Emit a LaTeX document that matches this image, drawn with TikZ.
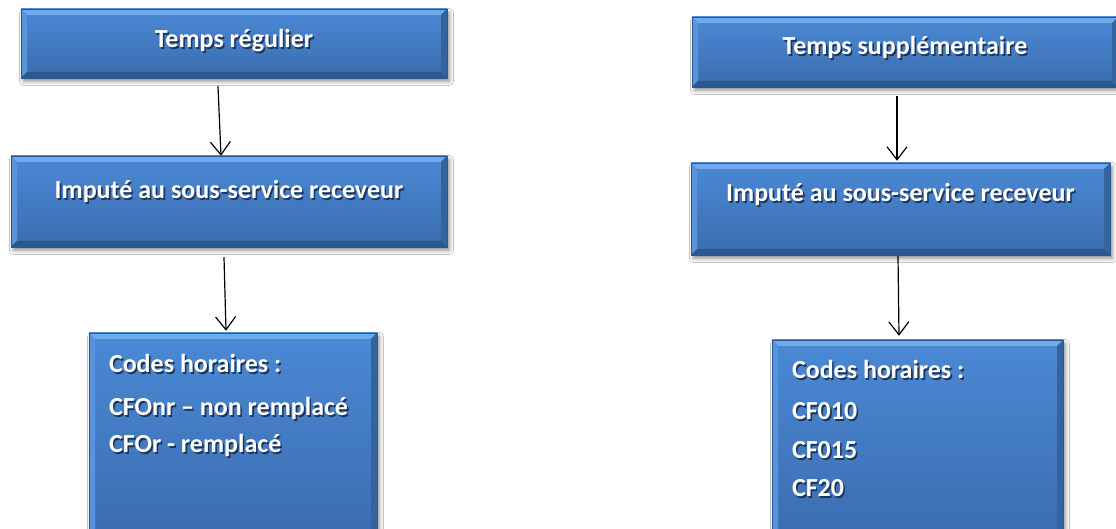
\documentclass[tikz,border=0pt]{standalone}
\usepackage{fontspec}
\setmainfont{Carlito}
\usetikzlibrary{arrows.meta,shadows.blur}

\definecolor{paneltop}{HTML}{4B89D5}
\definecolor{panelbot}{HTML}{3A6CAE}
\definecolor{bevellight}{HTML}{6FAAEC}
\definecolor{bevelleft}{HTML}{5894DC}
\definecolor{beveldark}{HTML}{2C5891}
\definecolor{bevelright}{HTML}{33649E}
\definecolor{textshade}{HTML}{1E355A}

% white caption with a soft dark offset copy underneath
\newcommand\shadowtext[1]{\makebox[0pt][l]{\hspace{1.6pt}\raisebox{-1.8pt}{\color{textshade}#1}}#1}
\def\bev{6pt}

\tikzset{
  panel/.style={rectangle, inner sep=0pt, top color=paneltop, bottom color=panelbot,
    draw=beveldark, line width=0.5pt, text=white,
    font=\bfseries\fontsize{26}{31}\selectfont,
    blur shadow={shadow xshift=2.5pt, shadow yshift=-3.5pt, shadow blur radius=4pt, shadow opacity=45},
    path picture={
      \fill[bevellight] (path picture bounding box.north west) -- (path picture bounding box.north east)
        -- ([xshift=-\bev,yshift=-\bev]path picture bounding box.north east)
        -- ([xshift=\bev,yshift=-\bev]path picture bounding box.north west) -- cycle;
      \fill[bevelleft] (path picture bounding box.north west) -- (path picture bounding box.south west)
        -- ([xshift=\bev,yshift=\bev]path picture bounding box.south west)
        -- ([xshift=\bev,yshift=-\bev]path picture bounding box.north west) -- cycle;
      \fill[beveldark] (path picture bounding box.south west) -- (path picture bounding box.south east)
        -- ([xshift=-\bev,yshift=\bev]path picture bounding box.south east)
        -- ([xshift=\bev,yshift=\bev]path picture bounding box.south west) -- cycle;
      \fill[bevelright] (path picture bounding box.north east) -- (path picture bounding box.south east)
        -- ([xshift=-\bev,yshift=\bev]path picture bounding box.south east)
        -- ([xshift=-\bev,yshift=-\bev]path picture bounding box.north east) -- cycle;
    }},
  conn/.style={line width=1.2pt, -{Straight Barb[length=13pt,width=20pt]}}
}

\begin{document}
\begin{tikzpicture}[x=1pt,y=1pt]
  \clip (0,0) rectangle (1116,529);
  \fill[white] (0,0) rectangle (1116,529);

  % left column: regular time
  \node[panel, minimum width=426pt, minimum height=69pt, text height=18pt, text depth=9pt]
    (b1) at (234,485.5) {\shadowtext{Temps régulier}};
  \node[panel, minimum width=436pt, minimum height=91pt, text height=10pt, text depth=15pt]
    (b2) at (229,327.5) {\shadowtext{Imputé au sous-service receveur}};
  \node[panel, minimum width=288pt, minimum height=212pt, text height=10pt, text depth=142pt]
    (b3) at (233,90) {\begin{minipage}[t]{248pt}\raggedright\fontsize{26}{37}\selectfont
      \noindent\shadowtext{Codes horaires :}\par\vspace{6pt}
      \shadowtext{CFOnr – non remplacé}\par
      \shadowtext{CFOr - remplacé}\end{minipage}};

  % right column: overtime
  \node[panel, minimum width=426pt, minimum height=70pt, text height=16pt, text depth=10pt]
    (b4) at (905,477) {\shadowtext{Temps supplémentaire}};
  \node[panel, minimum width=419pt, minimum height=92pt, text height=8pt, text depth=22pt]
    (b5) at (900.5,320) {\shadowtext{Imputé au sous-service receveur}};
  \node[panel, minimum width=291pt, minimum height=205pt, text height=10pt, text depth=137pt]
    (b6) at (917.5,86.5) {\begin{minipage}[t]{251pt}\raggedright\fontsize{26}{38.5}\selectfont
      \noindent\shadowtext{Codes horaires :}\par\vspace{2.5pt}
      \shadowtext{CF010}\par
      \shadowtext{CF015}\par
      \shadowtext{CF20}\end{minipage}};

  % connectors
  \draw[conn] ([xshift=-16pt,yshift=-8pt]b1.south) -- ([xshift=-8pt]b2.north);
  \draw[conn] ([xshift=-5pt,yshift=-10pt]b2.south) -- ([xshift=-7pt,yshift=2pt]b3.north);
  \draw[conn] ([xshift=-8pt,yshift=-9pt]b4.south) -- ([xshift=-3.5pt,yshift=2pt]b5.north);
  \draw[conn] ([xshift=-2.5pt,yshift=-1pt]b5.south) -- ([xshift=-18.5pt,yshift=4pt]b6.north);
\end{tikzpicture}
\end{document}
